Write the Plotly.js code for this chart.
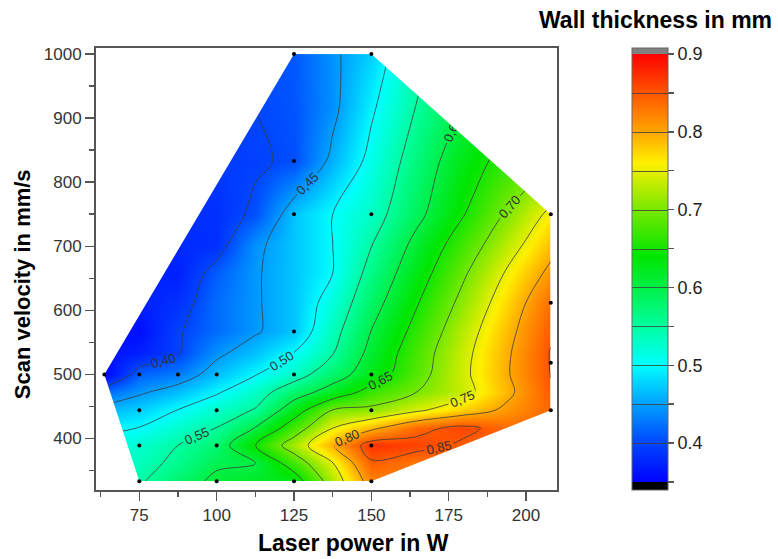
<!DOCTYPE html>
<html><head><meta charset="utf-8">
<script src="https://cdn.plot.ly/plotly-3.0.1.min.js"></script>
<style>html,body{margin:0;padding:0;background:#fff}</style>
</head><body><div id="chart" style="width:778px;height:559px"></div>
<script>
// Wall thickness (mm) on a grid of laser power x scan velocity
const laserPower = [63.7, 75, 87.5, 100, 112.5, 125, 137.5, 150, 164.5, 179, 193.5, 208];
const scanVelocity = [333.3, 361, 389, 416, 444, 472, 500, 533, 567, 612, 658, 704, 750, 833, 917, 1000];
const wallThickness = [
  [null, 0.545, 0.578, 0.61, 0.618, 0.625, 0.723, 0.82, null, null, null, null],
  [null, 0.535, 0.56, 0.593, 0.60, 0.673, 0.748, 0.845, 0.828, null, null, null],
  [null, 0.525, 0.55, 0.575, 0.649, 0.723, 0.796, 0.87, 0.862, 0.845, null, null],
  [null, 0.501, 0.526, 0.551, 0.602, 0.676, 0.75, 0.791, 0.838, 0.86, 0.837, null],
  [null, 0.475, 0.501, 0.527, 0.553, 0.627, 0.702, 0.71, 0.743, 0.775, 0.808, 0.84],
  [null, 0.445, 0.466, 0.496, 0.529, 0.579, 0.62, 0.668, 0.70, 0.733, 0.789, 0.846],
  [0.35, 0.415, 0.43, 0.465, 0.498, 0.53, 0.578, 0.625, 0.682, 0.738, 0.795, 0.851],
  [null, 0.372, 0.397, 0.443, 0.468, 0.501, 0.548, 0.613, 0.676, 0.735, 0.793, 0.852],
  [null, 0.36, 0.397, 0.421, 0.446, 0.47, 0.535, 0.601, 0.663, 0.726, 0.786, 0.845],
  [null, null, 0.385, 0.421, 0.446, 0.47, 0.518, 0.582, 0.646, 0.709, 0.772, 0.835],
  [null, null, 0.372, 0.413, 0.446, 0.47, 0.50, 0.565, 0.628, 0.691, 0.753, 0.81],
  [null, null, null, 0.383, 0.442, 0.47, 0.50, 0.548, 0.611, 0.67, 0.728, 0.785],
  [null, null, null, 0.384, 0.406, 0.47, 0.50, 0.53, 0.588, 0.645, 0.703, 0.76],
  [null, null, null, null, 0.396, 0.405, 0.459, 0.512, 0.57, 0.627, null, null],
  [null, null, null, null, null, 0.408, 0.441, 0.494, 0.551, null, null, null],
  [null, null, null, null, null, 0.41, 0.443, 0.476, null, null, null, null]
];
// Measured sample points (black dots)
const samplePower = [63.7, 75, 87.5, 100, 125, 150, 75, 100, 150, 75, 100, 150, 75, 100, 125, 150, 125, 125, 125, 125, 150, 150, 208, 208, 208, 208];
const sampleVelocity = [500, 500, 500, 500, 500, 500, 444, 444, 444, 389, 389, 389, 333.3, 333.3, 333.3, 333.3, 567, 750, 833, 1000, 1000, 750, 750, 612, 518, 444];
const colorTicks = [0.35, 0.4, 0.45, 0.5, 0.55, 0.6, 0.65, 0.7, 0.75, 0.8, 0.85, 0.9];
const colorTickText = ['', '0.4', '', '0.5', '', '0.6', '', '0.7', '', '0.8', '', '0.9'];

const xRange = [61, 210];
const yRange = [319.5, 1009.5];

// convex hull of the sample points (monotone chain), counter-clockwise
function hull(px, py) {
  const pts = px.map((x, i) => [x, py[i]]).sort((a, b) => a[0] - b[0] || a[1] - b[1]);
  const cross = (o, a, b) => (a[0]-o[0])*(b[1]-o[1]) - (a[1]-o[1])*(b[0]-o[0]);
  const lower = [], upper = [];
  for (const p of pts) { while (lower.length >= 2 && cross(lower[lower.length-2], lower[lower.length-1], p) <= 0) lower.pop(); lower.push(p); }
  for (let i = pts.length-1; i >= 0; i--) { const p = pts[i]; while (upper.length >= 2 && cross(upper[upper.length-2], upper[upper.length-1], p) <= 0) upper.pop(); upper.push(p); }
  upper.pop(); lower.pop();
  return lower.concat(upper);
}
const h = hull(samplePower, sampleVelocity);
// white mask = axis rectangle (clockwise) with the hull (counter-clockwise) cut out
const mx = [xRange[0], xRange[0], xRange[1], xRange[1], xRange[0]];
const my = [yRange[0], yRange[1], yRange[1], yRange[0], yRange[0]];
for (let i = 0; i < h.length; i++) { mx.push(h[i][0]); my.push(h[i][1]); }
mx.push(h[0][0]); my.push(h[0][1]);
mx.push(xRange[0]); my.push(yRange[0]);

const zmin = 0.3397, zmax = 0.9077;
const f = z => (z - zmin) / (zmax - zmin);
const cs = [
  [0, 'rgb(0,0,0)'], [f(0.35), 'rgb(0,0,0)'],
  [f(0.35), 'rgb(0,0,255)'], [f(0.40), 'rgb(0,70,255)'], [f(0.45), 'rgb(0,160,255)'],
  [f(0.50), 'rgb(0,255,255)'], [f(0.55), 'rgb(0,255,160)'], [f(0.60), 'rgb(0,240,70)'],
  [f(0.64), 'rgb(0,230,0)'], [f(0.70), 'rgb(120,232,0)'], [f(0.76), 'rgb(255,240,0)'],
  [f(0.80), 'rgb(255,165,0)'], [f(0.85), 'rgb(255,85,0)'], [f(0.90), 'rgb(255,0,0)'],
  [f(0.90), 'rgb(128,128,128)'], [1, 'rgb(128,128,128)']
];

const traces = [
  {
    type: 'contour', x: laserPower, y: scanVelocity, z: wallThickness, connectgaps: true,
    zmin: zmin, zmax: zmax, colorscale: cs, hoverinfo: 'skip',
    contours: { start: 0.40, end: 0.85, size: 0.05, coloring: 'heatmap', showlabels: true,
      labelfont: { family: 'Liberation Sans, Arial, sans-serif', size: 13, color: '#333' }, labelformat: '.2f' },
    line: { color: 'rgba(60,60,60,0.8)', width: 1 },
    colorbar: {
      x: 1.163, xanchor: 'left', y: 1, yanchor: 'top', len: 442, lenmode: 'pixels',
      thickness: 36, xpad: 0, ypad: 0, outlinewidth: 1, outlinecolor: '#666',
      tickmode: 'array', tickvals: colorTicks, ticktext: colorTickText,
      ticks: 'outside', ticklen: 6, tickwidth: 1.5, tickcolor: '#555',
      tickfont: { family: 'Liberation Sans, Arial, sans-serif', size: 18, color: '#222' }
    }
  },
  { type: 'scatter', mode: 'lines', x: mx, y: my, fill: 'toself', fillcolor: '#ffffff',
    line: { width: 0, color: 'rgba(0,0,0,0)' }, hoverinfo: 'skip', showlegend: false },
  { type: 'scatter', mode: 'markers', x: samplePower, y: sampleVelocity,
    marker: { color: '#000', size: 4 }, hoverinfo: 'skip', showlegend: false }
];

const tickFont = { family: 'Liberation Sans, Arial, sans-serif', size: 17, color: '#333' };
const layout = {
  width: 778, height: 559, separators: ', ',
  margin: { l: 96, r: 221, t: 48, b: 69 },
  paper_bgcolor: '#fff', plot_bgcolor: '#fff', showlegend: false,
  xaxis: { range: xRange, tick0: 0, dtick: 25, ticks: 'outside', ticklen: 9, tickwidth: 1.5, tickcolor: '#555',
    minor: { dtick: 12.5, ticks: 'outside', ticklen: 5, tickwidth: 1.5, tickcolor: '#555' },
    showline: true, mirror: true, linecolor: '#555', linewidth: 2, showgrid: false, zeroline: false,
    tickfont: tickFont },
  yaxis: { range: yRange, tick0: 0, dtick: 100, ticks: 'outside', ticklen: 9, tickwidth: 1.5, tickcolor: '#555',
    minor: { dtick: 50, ticks: 'outside', ticklen: 5, tickwidth: 1.5, tickcolor: '#555' },
    showline: true, mirror: true, linecolor: '#555', linewidth: 2, showgrid: false, zeroline: false,
    tickfont: tickFont, tickformat: 'd' },
  annotations: [
    { text: '<b>Laser power in W</b>', xref: 'paper', yref: 'paper', x: 0.558, y: -0.12, xanchor: 'center', yanchor: 'middle',
      showarrow: false, font: { family: 'Liberation Sans, Arial, sans-serif', size: 23, color: '#000' } },
    { text: '<b>Scan velocity in mm/s</b>', xref: 'paper', yref: 'paper', x: -0.16, y: 0.466, xanchor: 'center', yanchor: 'middle',
      textangle: -90, showarrow: false, font: { family: 'Liberation Sans, Arial, sans-serif', size: 22, color: '#000' } },
    { text: '<b>Wall thickness in mm</b>', xref: 'paper', yref: 'paper', x: 1.213, y: 1.064, xanchor: 'center', yanchor: 'middle',
      showarrow: false, font: { family: 'Liberation Sans, Arial, sans-serif', size: 23, color: '#000' } }
  ]
};
Plotly.newPlot('chart', traces, layout, { staticPlot: true, displayModeBar: false });
</script></body></html>
